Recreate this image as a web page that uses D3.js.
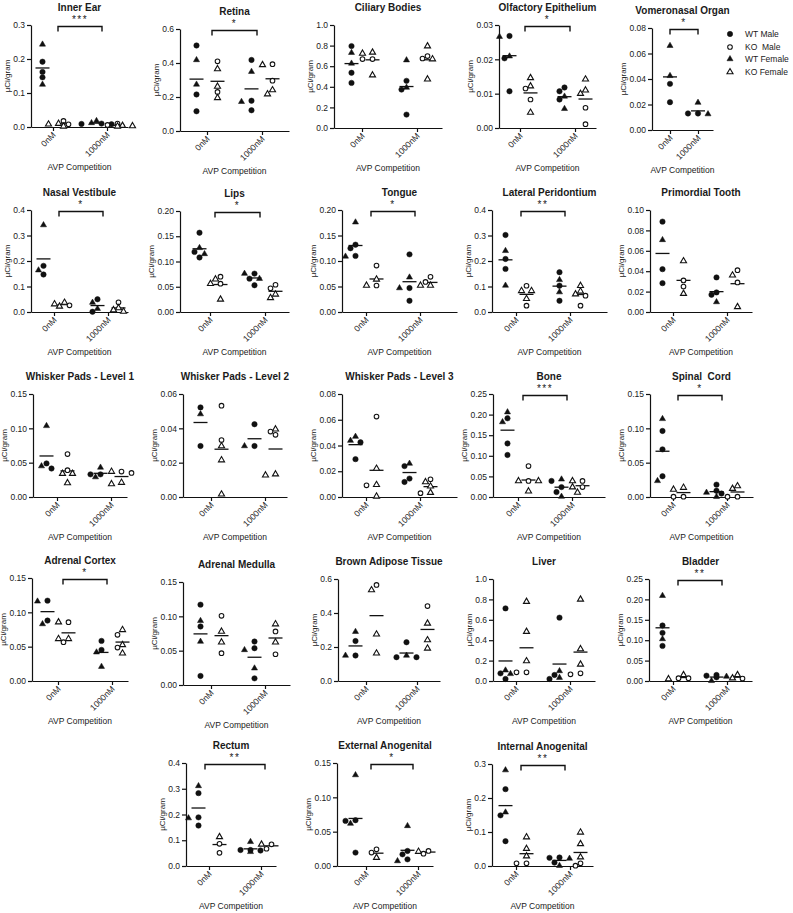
<!DOCTYPE html>
<html><head><meta charset="utf-8">
<script src="https://cdn.jsdelivr.net/npm/d3@7"></script>
<style>
body{margin:0;background:#fff}
svg{display:block}
text{font-family:"Liberation Sans",Arial,Helvetica,sans-serif;fill:#1a1a1a;white-space:pre}
</style>
</head><body>
<script>
// ---------- categories ----------
const doses = ["0nM", "1000nM"];
const groupNames = ["WT Male", "KO  Male", "WT Female", "KO Female"];
const xLabel = "AVP Competition";
const yLabel = "\u00b5Ci/gram";

// ---------- data: each series = [values at 0nM, values at 1000nM] ----------
const innerEar = {
  wtMale: [[0.192, 0.162, 0.146], [0.010, 0.008, 0.009]],
  wtFemale: [[0.243, 0.125], [0.018, 0.012]],
  koMale: [[0.018, 0.008], [0.006, 0.010]],
  koFemale: [[0.002, 0.010, 0.008], [0.002, 0.003, 0.004]]
};
const retina = {
  wtMale: [[0.503, 0.215, 0.116], [0.418, 0.178, 0.122]],
  wtFemale: [[0.418, 0.274], [0.349, 0.172]],
  koMale: [[0.410, 0.230], [0.393, 0.296]],
  koFemale: [[0.365, 0.262, 0.195], [0.389, 0.241, 0.217]]
};
const ciliaryBodies = {
  wtMale: [[0.795, 0.536, 0.438], [0.458, 0.373, 0.130]],
  wtFemale: [[0.731, 0.627], [0.659, 0.393]],
  koMale: [[0.669, 0.669], [0.698, 0.675]],
  koFemale: [[0.734, 0.724, 0.513], [0.795, 0.669, 0.474]]
};
const olfactoryEpithelium = {
  wtMale: [[0.0268, 0.0203, 0.0107], [0.0118, 0.0107, 0.0083]],
  wtFemale: [[0.0266, 0.0209], [0.0092, 0.0056]],
  koMale: [[0.0115, 0.0083], [0.0059, 0.0011]],
  koFemale: [[0.0146, 0.0122, 0.0045], [0.0142, 0.0100, 0.0110]]
};
const vomeronasalOrgan = {
  wtMale: [[0.0362, 0.0218], [0.0130, 0.0130]],
  wtFemale: [[0.0661, 0.0425], [0.0215, 0.0125]],
  koMale: [[], []],
  koFemale: [[], []]
};
const nasalVestibule = {
  wtMale: [[0.181, 0.147], [0.050, 0.001]],
  wtFemale: [[0.341, 0.164], [0.037, 0.013]],
  koMale: [[0.026], [0.038]],
  koFemale: [[0.022, 0.037, 0.031], [0.016, 0.002, 0.008]]
};
const lips = {
  wtMale: [[0.157, 0.119, 0.108], [0.076, 0.066, 0.053]],
  wtFemale: [[0.127, 0.115], [0.076, 0.066]],
  koMale: [[0.070, 0.056], [0.054, 0.047]],
  koFemale: [[0.065, 0.056, 0.025], [0.028, 0.035]]
};
const tongue = {
  wtMale: [[0.132, 0.125, 0.110], [0.113, 0.047, 0.022]],
  wtFemale: [[0.176, 0.109], [0.068, 0.047]],
  koMale: [[0.091, 0.052], [0.069, 0.059]],
  koFemale: [[0.052, 0.064], [0.052, 0.052]]
};
const lateralPeridontium = {
  wtMale: [[0.302, 0.208, 0.169], [0.156, 0.103, 0.044]],
  wtFemale: [[0.240, 0.104], [0.126, 0.078]],
  koMale: [[0.103, 0.025], [0.064, 0.025]],
  koFemale: [[0.083, 0.083, 0.052], [0.103, 0.081, 0.070]]
};
const primordialTooth = {
  wtMale: [[0.0886, 0.0420, 0.0283], [0.0339, 0.0192, 0.0169]],
  wtFemale: [[0.0707], [0.0098]],
  koMale: [[0.031, 0.025], [0.041, 0.029]],
  koFemale: [[0.050, 0.018], [0.036, 0.005]]
};
const whiskerPads1 = {
  wtMale: [[0.0489, 0.0415], [0.033, 0.033]],
  wtFemale: [[0.1036, 0.045], [0.043, 0.029]],
  koMale: [[0.0625, 0.039], [0.037, 0.035]],
  koFemale: [[0.034, 0.034, 0.0205], [0.037, 0.019, 0.021]]
};
const whiskerPads2 = {
  wtMale: [[0.0522, 0.0297], [0.0424, 0.0297]],
  wtFemale: [[0.0483], [0.0297]],
  koMale: [[0.0532, 0.0332], [0.0362, 0.0381]],
  koFemale: [[0.0297, 0.0215, 0.0016], [0.0395, 0.0127, 0.0133]]
};
const whiskerPads3 = {
  wtMale: [[0.0425, 0.0294], [0.024, 0.0143, 0.0117]],
  wtFemale: [[0.0469, 0.0438], [0.026]],
  koMale: [[0.0625, 0.0091], [0.0138, 0.003]],
  koFemale: [[0.0221, 0.0095, 0.0005], [0.0117, 0.0083, 0.0034]]
};
const bone = {
  wtMale: [[0.191, 0.130, 0.102], [0.039, 0.024, 0.012]],
  wtFemale: [[0.206, 0.182], [0.043, 0.001]],
  koMale: [[0.075, 0.039], [0.039, 0.024]],
  koFemale: [[0.039, 0.039, 0.014], [0.039, 0.024, 0.011]]
};
const spinalCord = {
  wtMale: [[0.0962, 0.0694, 0.0303], [0.018, 0.009, 0.005]],
  wtFemale: [[0.1138, 0.0235], [0.0065, 0.0005]],
  koMale: [[0.0005, 0.0005], [0.0005, 0.0005]],
  koFemale: [[0.011, 0.0137], [0.0122, 0.016]]
};
const adrenalCortex = {
  wtMale: [[0.117, 0.088], [0.0584, 0.0453]],
  wtFemale: [[0.116, 0.083], [0.0419, 0.0209]],
  koMale: [[0.0857, 0.0565], [0.0672, 0.0487]],
  koFemale: [[0.0857, 0.0614, 0.0614], [0.0745, 0.0526, 0.0404]]
};
const adrenalMedulla = {
  wtMale: [[0.117, 0.0852, 0.0132], [0.0633, 0.0536, 0.0097]],
  wtFemale: [[0.0935, 0.0633], [0.0511, 0.0244]],
  koMale: [[0.1008, 0.0463], [0.078, 0.0448]],
  koFemale: [[0.078, 0.0623], [0.0887, 0.0623]]
};
const brownAdipose = {
  wtMale: [[0.235, 0.150], [0.228, 0.140, 0.140]],
  wtFemale: [[0.290, 0.150], [0.150]],
  koMale: [[0.565], [0.441]],
  koFemale: [[0.535, 0.275, 0.163], [0.339, 0.241, 0.192]]
};
const liver = {
  wtMale: [[0.712, 0.075, 0.020], [0.621, 0.059, 0.020]],
  wtFemale: [[0.105, 0.070], [0.098, 0.033]],
  koMale: [[0.085, 0.085], [0.065, 0.075]],
  koFemale: [[0.778, 0.484, 0.196], [0.800, 0.314, 0.163]]
};
const bladder = {
  wtMale: [[0.136, 0.118, 0.086], [0.013, 0.0147, 0.009]],
  wtFemale: [[0.209, 0.103], [0.0005, 0.011]],
  koMale: [[0.007, 0.007], [0.006]],
  koFemale: [[0.005, 0.015], [0.015, 0.007]]
};
const rectum = {
  wtMale: [[0.283, 0.189, 0.157], [0.062, 0.062, 0.060]],
  wtFemale: [[0.311, 0.186], [0.094, 0.055]],
  koMale: [[0.086, 0.051], [0.067, 0.084]],
  koFemale: [[0.113], [0.084]]
};
const externalAnogenital = {
  wtMale: [[0.0667, 0.0657, 0.0195], [0.0219, 0.017, 0.0097]],
  wtFemale: [[0.1325, 0.0618], [0.0584, 0.0073]],
  koMale: [[0.0243, 0.0195], [0.018, 0.0219]],
  koFemale: [[0.0122], [0.021]]
};
const internalAnogenital = {
  wtMale: [[0.226, 0.149, 0.073], [0.025, 0.024, 0.010]],
  wtFemale: [[0.282, 0.158], [0.022, 0.001]],
  koMale: [[0.008, 0.008], [0.001, 0.008]],
  koFemale: [[0.085, 0.051, 0.029], [0.099, 0.065, 0.026]]
};

const panelData = [innerEar, retina, ciliaryBodies, olfactoryEpithelium, vomeronasalOrgan,
  nasalVestibule, lips, tongue, lateralPeridontium, primordialTooth,
  whiskerPads1, whiskerPads2, whiskerPads3, bone, spinalCord,
  adrenalCortex, adrenalMedulla, brownAdipose, liver, bladder,
  rectum, externalAnogenital, internalAnogenital];

const titles = ["Inner Ear", "Retina", "Ciliary Bodies", "Olfactory Epithelium", "Vomeronasal Organ",
  "Nasal Vestibule", "Lips", "Tongue", "Lateral Peridontium", "Primordial Tooth",
  "Whisker Pads - Level 1", "Whisker Pads - Level 2", "Whisker Pads - Level 3", "Bone", "Spinal  Cord",
  "Adrenal Cortex", "Adrenal Medulla", "Brown Adipose Tissue", "Liver", "Bladder",
  "Rectum", "External Anogenital", "Internal Anogenital"];
const significance = ["***", "*", "", "*", "*",
  "*", "*", "*", "**", "",
  "", "", "", "***", "*",
  "*", "", "", "", "**",
  "**", "*", "**"];
const yMax = [0.3, 0.6, 1.0, 0.03, 0.08, 0.4, 0.2, 0.2, 0.4, 0.1,
  0.15, 0.06, 0.08, 0.25, 0.15, 0.15, 0.15, 0.6, 1.0, 0.25, 0.4, 0.15, 0.3];
const yStep = [0.1, 0.2, 0.2, 0.01, 0.02, 0.1, 0.05, 0.05, 0.1, 0.02,
  0.05, 0.02, 0.02, 0.05, 0.05, 0.05, 0.05, 0.2, 0.2, 0.05, 0.1, 0.05, 0.1];
const yDecimals = [1, 1, 1, 2, 2, 1, 2, 2, 1, 2, 2, 2, 2, 2, 2, 2, 2, 1, 1, 2, 1, 2, 1];

// ---------- layout: [left, top, right, bottom, first tick x, tick gap, sub-column offset, bracket inset] ----------
const layout = [
  [31, 25, 128, 127, 53, 54, 10.5, 5], [180, 29, 289, 131, 207, 55, 10.5, 5], [334, 25, 442, 128, 362, 55, 10.5, 5],
  [499, 25, 596, 128, 520, 55, 10.5, 5], [652, 28, 713, 130, 670, 28, 0, 0],
  [31, 210, 128, 312, 54, 54, 10.5, 5], [180, 211, 289, 312, 210, 55, 10.5, 5], [342, 210, 457, 312, 366, 54, 10.5, 5],
  [492, 210, 607, 312, 516, 54, 10.5, 5], [650, 210, 752, 312, 673, 54, 10.5, 5],
  [33, 394, 127, 497, 57, 54, 10.5, 5], [183, 394, 287, 497, 211, 54, 10.5, 5], [342, 394, 457, 497, 366, 54, 10.5, 5],
  [493, 394, 605, 497, 518, 54, 10.5, 5], [650, 394, 753, 497, 673, 54, 10.5, 5],
  [32, 578, 128, 681, 58, 54, 10.5, 5], [183, 582, 290, 685, 211, 54, 10.5, 5], [338, 579, 440, 681, 366, 51, 10.5, 5],
  [493, 579, 595, 681, 516, 54, 10.5, 5], [649, 579, 752, 681, 673, 54, 10.5, 5],
  [186, 763, 276, 866, 209, 52, 10.5, -4], [337, 763, 433, 866, 366, 52, 10.5, 5], [492, 764, 593, 866, 516, 54, 10.5, 5]
];

// ---------- drawing ----------
const W = 793, H = 913;
const svg = d3.select("body").append("svg").attr("width", W).attr("height", H);
const INK = "#111";
const tri = d3.symbol().type(d3.symbolTriangle).size(16);

function drawMarker(sel, kind) {
  const filled = kind.startsWith("wt");
  const female = kind.endsWith("Female");
  if (female) {
    sel.append("path").attr("d", tri())
      .attr("fill", filled ? INK : "#fff").attr("stroke", INK).attr("stroke-width", filled ? 0.5 : 1.1);
  } else {
    sel.append("circle").attr("r", filled ? 2.7 : 2.3)
      .attr("fill", filled ? INK : "#fff").attr("stroke", INK).attr("stroke-width", filled ? 0.5 : 1.1);
  }
}

function swarm(points, cx, y) {
  const S = 5, D = 5.4;
  const pts = points.map(p => Object.assign({}, p, {py: y(p.v)})).sort((a, b) => a.py - b.py);
  const placed = [];
  const cands = [0, -1, 1, -2, 2, -3, 3];
  for (const p of pts) {
    p.px = cx;
    for (const c of cands) {
      const px = cx + c * S;
      if (placed.every(q => Math.hypot(q.px - px, q.py - p.py) >= D)) { p.px = px; break; }
    }
    placed.push(p);
  }
  return placed;
}

panelData.forEach((data, i) => {
  const [L, T, R, B, t0, gap, sub, inset] = layout[i];
  const g = svg.append("g");
  const y = d3.scaleLinear().domain([0, yMax[i]]).range([B, T]);
  const x = d3.scaleLinear().domain([(L - t0) / gap, (R - t0) / gap]).range([L, R]);

  // y axis
  const nT = Math.round(yMax[i] / yStep[i]);
  const yAxis = d3.axisLeft(y)
    .tickValues(d3.range(0, nT + 1).map(k => +(k * yStep[i]).toFixed(5)))
    .tickFormat(d3.format(`.${yDecimals[i]}f`))
    .tickSize(4).tickSizeOuter(0).tickPadding(2);
  const ya = g.append("g").attr("transform", `translate(${L},0)`).call(yAxis);
  // x axis
  const xAxis = d3.axisBottom(x).tickValues([0, 1]).tickFormat(k => doses[k])
    .tickSize(4).tickSizeOuter(0);
  const xa = g.append("g").attr("transform", `translate(0,${B})`).call(xAxis);
  xa.selectAll(".tick text")
    .attr("x", -4).attr("y", 5).attr("dy", "0.35em")
    .attr("transform", "rotate(-45)").style("text-anchor", "end");
  [ya, xa].forEach(a => {
    a.selectAll(".domain, .tick line").attr("stroke", INK).attr("stroke-width", 1.2);
    a.selectAll(".tick text").attr("font-size", 8.5).attr("fill", "#1a1a1a")
      .attr("font-family", '"Liberation Sans", Arial, sans-serif');
  });

  // y label
  const maxW = d3.max(ya.selectAll(".tick text").nodes(), n => n.getComputedTextLength());
  const lx = L - 6 - maxW - 3.5;
  g.append("text").attr("transform", `translate(${lx},${(T + B) / 2}) rotate(-90)`)
    .attr("text-anchor", "middle").attr("font-size", 8).text(yLabel);

  // x label
  g.append("text").attr("x", (L + R) / 2).attr("y", B + 43)
    .attr("text-anchor", "middle").attr("font-size", 8.5).text(xLabel);

  // title
  g.append("text").attr("x", (L + R) / 2).attr("y", T - 13.8)
    .attr("text-anchor", "middle").attr("font-size", 10).attr("font-weight", "bold").text(titles[i]);

  // significance bracket
  if (significance[i]) {
    const x0 = x(0) + inset, x1 = x(1) - inset;
    g.append("path").attr("d", `M${x0},${T + 6.5}V${T + 1.5}H${x1}V${T + 6.5}`)
      .attr("fill", "none").attr("stroke", INK).attr("stroke-width", 1.4);
    g.append("text").attr("x", (x0 + x1) / 2).attr("y", T - 1.8)
      .attr("text-anchor", "middle").attr("font-size", 10).attr("letter-spacing", 1.5)
      .text(significance[i]);
  }

  // points & means
  doses.forEach((dose, d) => {
    [["wt", -sub], ["ko", sub]].forEach(([geno, off]) => {
      const pts = [];
      ["Male", "Female"].forEach(sex => {
        data[geno + sex][d].forEach(v => pts.push({v, kind: geno + sex}));
      });
      if (!pts.length) return;
      const cx = x(d) + off;
      const m = d3.mean(pts, p => p.v);
      g.append("line").attr("x1", cx - 7).attr("x2", cx + 7).attr("y1", y(m)).attr("y2", y(m))
        .attr("stroke", INK).attr("stroke-width", 1.3);
      swarm(pts, cx, y).forEach(p => {
        const mk = g.append("g").attr("transform", `translate(${p.px},${p.py})`);
        drawMarker(mk, p.kind);
      });
    });
  });
});

// legend
const legendKinds = ["wtMale", "koMale", "wtFemale", "koFemale"];
const legendY = [34, 47, 59, 72];
legendKinds.forEach((k, j) => {
  const mk = svg.append("g").attr("transform", `translate(730,${legendY[j]})`);
  drawMarker(mk, k);
  svg.append("text").attr("x", 745).attr("y", legendY[j]).attr("dy", "0.35em")
    .attr("font-size", 8.5).text(groupNames[j]);
});
</script>
</body></html>
